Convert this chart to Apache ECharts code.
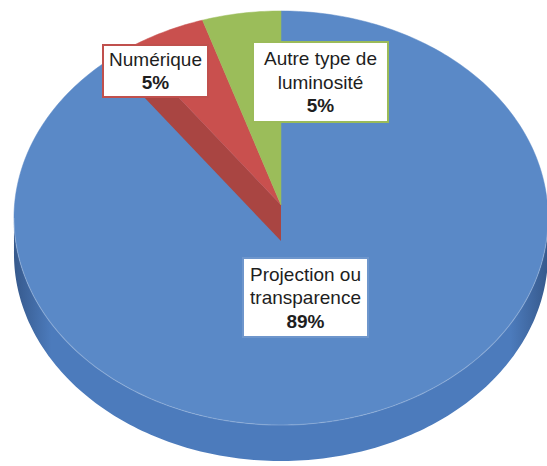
<!DOCTYPE html>
<html><head><meta charset="utf-8">
<script src="https://cdn.jsdelivr.net/npm/echarts@6/dist/echarts.min.js"></script>
<style>html,body{margin:0;padding:0;background:#fff}#c{width:547px;height:466px}</style>
</head><body><div id="c"></div>
<script>
// ---- data ----
const categories = ['Projection ou transparence', 'Numérique', 'Autre type de luminosité'];
const labelLines = [['Projection ou', 'transparence'], ['Numérique'], ['Autre type de', 'luminosité']];
const values = [89, 5, 5];

// ---- styles / layout ----
const topColors = ['#5A89C7', '#C9504E', '#9BBD5A'];
const wallColors = ['#4C7BBC', '#A94542', '#86A64A'];
const wallEdgeColors = ['#36598C', '#7E3331', '#637B36'];
const borderColors = ['#6E96CC', '#C0504D', '#9BBB59'];
const cutWall = [false, true, false];
const labelBoxes = [[243, 258, 125, 79], [103, 45, 105, 52], [253, 42, 135, 80]];
const G = {cx: 281, cy: 205, A: 266.5, B: 206.2, p: 0.0628, depth: 36};

const total = values.reduce((a, b) => a + b, 0);
let acc = 0;
const sliceData = values.map(v => { const s = acc; acc += v; return [v, s / total, acc / total]; });

function proj(theta, dy) {
  const u = Math.sin(theta), v = Math.cos(theta);
  const k = 1 + G.p * v;
  return [G.cx + G.A * u / k, G.cy - G.B * v / k + (dy || 0)];
}
function arc(t0, t1, dy) {
  const pts = [];
  const n = Math.max(2, Math.ceil((t1 - t0) / (Math.PI / 180)));
  for (let i = 0; i <= n; i++) pts.push(proj(t0 + (t1 - t0) * i / n, dy));
  return pts;
}
const thR = Math.PI / 2 + Math.asin(G.p);
const thL = 2 * Math.PI - thR;

function sideFill(i) {
  const c = wallColors[i], e = wallEdgeColors[i];
  return {
    type: 'linear', x: 0, y: 0, x2: 1, y2: 0,
    colorStops: [
      {offset: 0, color: e},
      {offset: 0.07, color: c},
      {offset: 0.5, color: c},
      {offset: 0.93, color: c},
      {offset: 1, color: e}
    ]
  };
}

const chart = echarts.init(document.getElementById('c'), null, {renderer: 'svg'});
chart.setOption({
  animation: false,
  series: [{
    type: 'custom',
    coordinateSystem: 'none',
    data: sliceData,
    z: 2,
    renderItem: function (params, api) {
      const i = params.dataIndex;
      const t0 = api.value(1) * 2 * Math.PI, t1 = api.value(2) * 2 * Math.PI;
      const C = [G.cx, G.cy];
      const kids = [];
      const a = Math.max(t0, thR), b = Math.min(t1, thL);
      let rimTop = null;
      if (b > a) {
        rimTop = arc(a, b, 0);
        const bot = arc(a, b, G.depth).reverse();
        kids.push({type: 'polygon', shape: {points: rimTop.concat(bot)}, style: {fill: sideFill(i)}});
      }
      if (cutWall[i]) {
        const P = proj(t0, 0);
        kids.push({type: 'polygon', shape: {points: [C, P, [P[0], P[1] + G.depth], [C[0], C[1] + G.depth]]},
          style: {fill: wallColors[i]}});
      }
      kids.push({type: 'polygon', shape: {points: [C].concat(arc(t0, t1, 0))},
        style: {fill: topColors[i], stroke: topColors[i], lineWidth: 0.5}});
      if (rimTop) {
        kids.push({type: 'polyline', shape: {points: rimTop},
          style: {stroke: 'rgba(255,255,255,0.2)', lineWidth: 1.2, fill: null}});
      }
      return {type: 'group', children: kids};
    }
  }, {
    type: 'custom',
    coordinateSystem: 'none',
    data: sliceData,
    z: 5,
    renderItem: function (params, api) {
      const i = params.dataIndex;
      const bx = labelBoxes[i];
      const lines = labelLines[i].concat([api.value(0) + '%']);
      const lh = 23.5;
      const y0 = bx[1] + bx[3] / 2 - (lines.length - 1) * lh / 2;
      const kids = [{type: 'rect', shape: {x: bx[0], y: bx[1], width: bx[2], height: bx[3]},
        style: {fill: '#ffffff', stroke: borderColors[i], lineWidth: 2}}];
      lines.forEach((t, k) => {
        kids.push({type: 'text', style: {
          text: t, x: bx[0] + bx[2] / 2, y: y0 + k * lh,
          align: 'center', verticalAlign: 'middle', fill: '#1e1e1e',
          font: (k === lines.length - 1 ? 'bold ' : '') + '19px "Liberation Sans", Arial, sans-serif'
        }});
      });
      return {type: 'group', children: kids};
    }
  }]
});
</script>
</body></html>
